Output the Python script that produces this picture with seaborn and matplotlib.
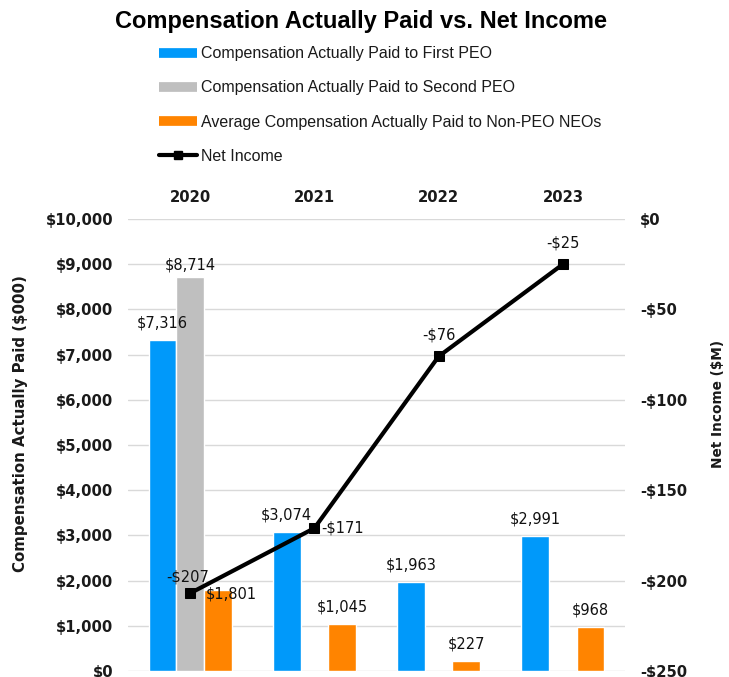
import matplotlib
matplotlib.use("Agg")
import matplotlib.pyplot as plt
import seaborn as sns
import pandas as pd
import numpy as np
from matplotlib.lines import Line2D

years = ["2020", "2021", "2022", "2023"]
first_peo = [7316, 3074, 1963, 2991]
second_peo = [8714, np.nan, np.nan, np.nan]
non_peo = [1801, 1045, 227, 968]
net_income = [-207, -171, -76, -25]

series_names = ["Compensation Actually Paid to First PEO",
                "Compensation Actually Paid to Second PEO",
                "Average Compensation Actually Paid to Non-PEO NEOs"]
line_name = "Net Income"
colors = ["#0099FA", "#BFBFBF", "#FF8400"]

sns.set_theme(style="white")
plt.rcParams['font.family'] = ['Liberation Sans', 'DejaVu Sans']

rows = []
for i, y in enumerate(years):
    for name, vals in zip(series_names, [first_peo, second_peo, non_peo]):
        rows.append({"Year": y, "Series": name, "Value": vals[i]})
df = pd.DataFrame(rows)

TXT = "#1a1a1a"
fig = plt.figure(figsize=(7.29, 6.77), dpi=100)
ax = fig.add_axes([0.1756, 0.0089, 0.6818, 0.6676])
sns.barplot(data=df, x="Year", y="Value", hue="Series", hue_order=series_names,
            palette=colors, width=0.667, ax=ax, saturation=1, legend=False, errorbar=None)
ax.set_ylim(0, 10000)
ax.set_yticks(range(0, 10001, 1000))
ax.set_yticklabels([f"${v:,}" for v in range(0, 10001, 1000)], fontweight="bold", fontsize=10.6,
                   color=TXT, family=["DejaVu Sans"])
ax.grid(axis="y", color="#D9D9D9", linewidth=1)
ax.set_axisbelow(True)
for s in ax.spines.values():
    s.set_visible(False)
ax.xaxis.tick_top()
ax.set_xlabel("")
ax.set_xticks(range(4))
ax.set_xticklabels(years, fontweight="bold", fontsize=10.6, family=["DejaVu Sans"], color=TXT)
ax.tick_params(axis="x", length=0, pad=10)
ax.tick_params(axis="y", length=0, pad=10.8)
ax.set_ylabel("Compensation Actually Paid ($000)", fontweight="bold", fontsize=10.8,
              family=["DejaVu Sans"], color=TXT)
ax.yaxis.set_label_coords(-0.201, 0.548)

# bar labels
bw = 0.667 / 3
offs = [-bw, 0, bw]
lab_font = dict(fontsize=10.5, ha="center", va="center", color="#111111", family=["DejaVu Sans"])
for k, vals in enumerate([first_peo, second_peo, non_peo]):
    for i, v in enumerate(vals):
        if np.isnan(v):
            continue
        if k == 2 and i == 0:
            ax.text(i + 0.33, v - 100, f"${v:,.0f}", **lab_font)
        elif k == 1:
            ax.text(i + offs[k], v + 265, f"${v:,.0f}", **lab_font)
        else:
            ax.text(i + offs[k], v + 375, f"${v:,.0f}", **lab_font)

ax2 = ax.twinx()
sns.lineplot(x=list(range(4)), y=net_income, ax=ax2, color="black", linewidth=3,
             marker="s", markersize=7.5, markeredgecolor="black")
ax2.set_ylim(-250, 0)
ax2.set_yticks(range(-250, 1, 50))
ax2.set_yticklabels([f"-${-v}" if v < 0 else "$0" for v in range(-250, 1, 50)],
                    fontweight="bold", fontsize=10.6, family=["DejaVu Sans"], color=TXT)
ax2.tick_params(axis="y", length=0, pad=10.8)
for s in ax2.spines.values():
    s.set_visible(False)
ax2.set_ylabel("Net Income ($M)", fontweight="bold", fontsize=9.8, family=["DejaVu Sans"],
               color=TXT)
ax2.yaxis.set_label_coords(1.173, 0.591)
ax2.grid(False)
ax.set_xlim(-0.5, 3.5)

line_lab = dict(fontsize=10.5, ha="center", va="center", color="#111111", family=["DejaVu Sans"])
for i, v in enumerate(net_income):
    if i == 0:
        ax2.text(i - 0.02, v + 8.9, f"-${-v}", **line_lab)
    elif i == 1:
        ax2.text(i + 0.225, v, f"-${-v}", **line_lab)
    else:
        ax2.text(i, v + 11.6, f"-${-v}", **line_lab)

fig.text(0.495, 0.968, "Compensation Actually Paid vs. Net Income", ha="center", va="center",
         fontsize=17, fontweight="bold", color="black",
         family=["Liberation Sans Narrow", "Liberation Sans"])

handles = [Line2D([0], [0], color=c, linewidth=7, solid_capstyle="butt") for c in colors]
handles.append(Line2D([0], [0], color="black", linewidth=3, marker="s", markersize=6))
leg = fig.legend(handles, series_names + [line_name], loc="upper left",
                 bbox_to_anchor=(0.198, 0.953), frameon=False, handlelength=2.4,
                 handletextpad=0.25, labelspacing=1.2,
                 prop={"family": ["Liberation Sans Narrow", "Liberation Sans"], "size": 11.5})
for t in leg.get_texts():
    t.set_color(TXT)

fig.savefig("out.png", dpi=100)
